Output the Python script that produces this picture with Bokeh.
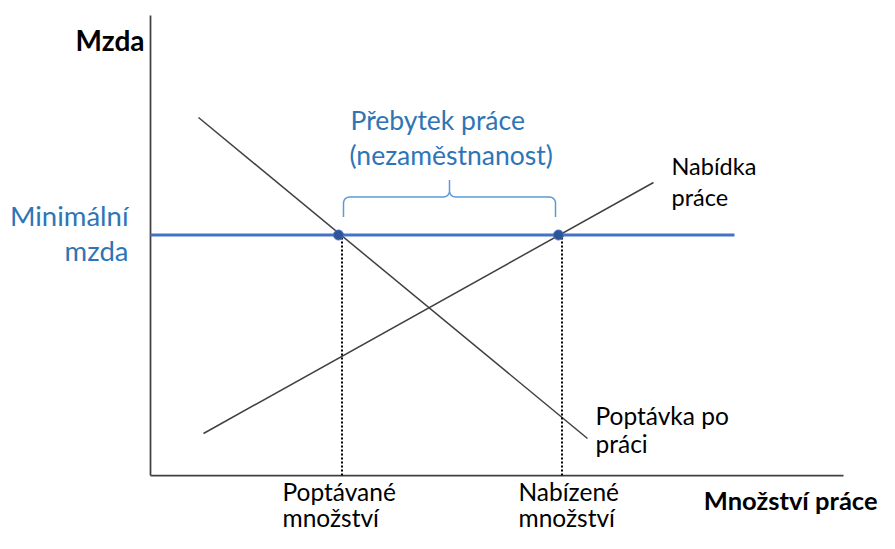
from bokeh.plotting import figure
from bokeh.models import Range1d
from bokeh.core.properties import value
from bokeh.embed import file_html
from bokeh.resources import INLINE
import numpy as np

# ---- data (diagram units: origin at the axes' corner) ----
min_wage = 240.5
q_demanded = 190
q_supplied = 410
demand_x = [48, 437]
demand_y = [358, 37]
supply_x = [53, 503]
supply_y = [42, 293]
axis_x_max = 693
axis_y_max = 460
wage_line_end = 584

y_axis_title = "Mzda"
x_axis_title = "Množství práce"
min_wage_label = ["Minimální", "mzda"]
surplus_label = ["Přebytek práce", "(nezaměstnanost)"]
supply_label = ["Nabídka", "práce"]
demand_label = ["Poptávka po", "práci"]
qd_label = ["Poptávané", "množství"]
qs_label = ["Nabízené", "množství"]

FONT = value("Lato")
AXIS_COL = "#404040"
BLUE_TXT = "#2E75B6"
BLUE_LINE = "#4472C4"
BLUE_PT = "#2F5597"
BRACE_COL = "#5B9BD5"

p = figure(width=879, height=533, output_backend="svg", toolbar_location=None,
           x_range=Range1d(-150, 729), y_range=Range1d(-58, 475),
           x_axis_location=None, y_axis_location=None,
           min_border=0, min_border_left=0, min_border_right=0,
           min_border_top=0, min_border_bottom=0)
p.grid.visible = False
p.outline_line_color = None
p.background_fill_color = "white"

# axes
p.line([0, 0], [0, axis_y_max], line_color=AXIS_COL, line_width=1.75)
p.line([0, axis_x_max], [0, 0], line_color=AXIS_COL, line_width=1.75)

# curves
p.line(demand_x, demand_y, line_color=AXIS_COL, line_width=1.5)
p.line(supply_x, supply_y, line_color=AXIS_COL, line_width=1.5)

# minimum wage
p.line([0, wage_line_end], [min_wage, min_wage], line_color=BLUE_LINE, line_width=3)

# dotted drops
for q in (q_demanded, q_supplied):
    p.line([q + 1.5, q + 1.5], [0, min_wage], line_color="black", line_width=2, line_dash="2 2")

p.scatter([q_demanded - 2, q_supplied - 2], [min_wage, min_wage], size=10,
          fill_color=BLUE_PT, line_color="#4472C4", line_width=1)

# brace
r = 6
base = min_wage + 18
top = min_wage + 38
peak = min_wage + 55
L, R = q_demanded + 3, q_supplied - 5
M = (L + R) / 2
def arc(cx, cy, a0, a1, n=8):
    t = np.linspace(a0, a1, n)
    return list(cx + r * np.cos(t)), list(cy + r * np.sin(t))
bx, by = [L], [base]
ax_, ay_ = arc(L + r, top - r, np.pi, np.pi / 2); bx += ax_; by += ay_
ax_, ay_ = arc(M - r, top + r, -np.pi / 2, 0); bx += ax_; by += ay_
bx += [M]; by += [peak]
ax_, ay_ = arc(M + r, top + r, np.pi, 3 * np.pi / 2); bx += ax_; by += ay_
ax_, ay_ = arc(R - r, top - r, np.pi / 2, 0); bx += ax_; by += ay_
bx += [R]; by += [base]
p.line(bx, by, line_color=BRACE_COL, line_width=1.5)

def txt(x, y, s, size, color="black", align="left", style="normal"):
    p.text([x], [y], text=[s], text_font=FONT, text_font_size=f"{size}px",
           text_color=color, text_align=align, text_baseline="middle",
           text_font_style=style)

txt(-6, 436, y_axis_title, 28, align="right", style="bold")
txt(727, -24, x_axis_title, 25.5, align="right", style="bold")
txt(-22, 260, min_wage_label[0], 27.5, color=BLUE_TXT, align="right")
txt(-22, 225, min_wage_label[1], 27.5, color=BLUE_TXT, align="right")
txt(200, 356, surplus_label[0], 26.5, color=BLUE_TXT)
txt(199, 321, surplus_label[1], 26.5, color=BLUE_TXT)
txt(521, 310, supply_label[0], 23.5)
txt(521, 279, supply_label[1], 23.5)
txt(445, 60, demand_label[0], 24.5)
txt(445, 32, demand_label[1], 24.5)
txt(q_demanded - 58, -16, qd_label[0], 24.5)
txt(q_demanded - 58, -42, qd_label[1], 24.5)
txt(q_supplied - 42, -16, qs_label[0], 24.5)
txt(q_supplied - 42, -42, qs_label[1], 24.5)

open("out.html", "w").write(file_html(p, INLINE))
